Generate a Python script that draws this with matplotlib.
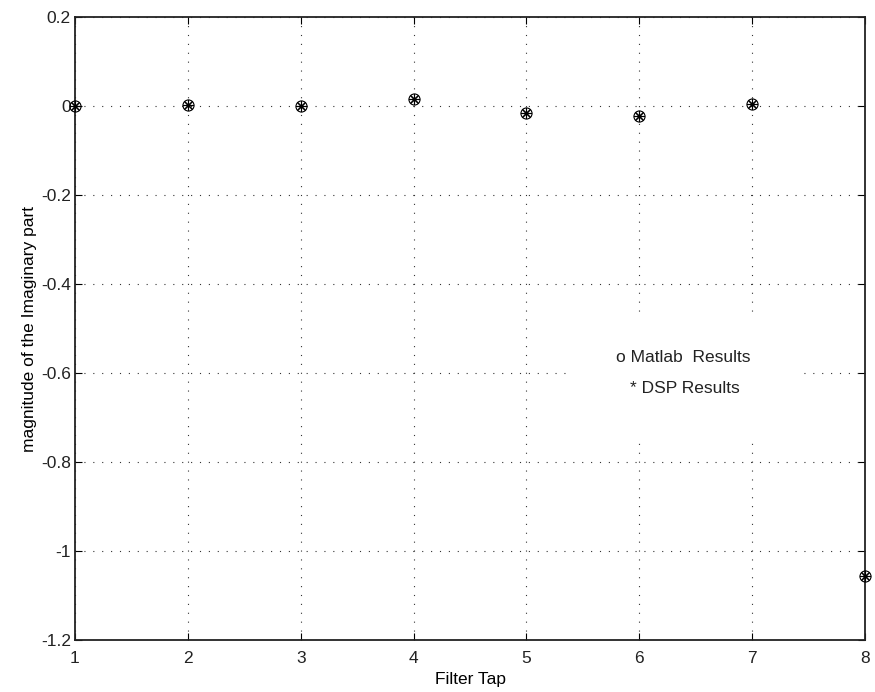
import matplotlib
matplotlib.use("Agg")
import matplotlib.pyplot as plt
from matplotlib.patches import Rectangle

# Imaginary part of each filter tap, Matlab vs DSP
taps = [1, 2, 3, 4, 5, 6, 7, 8]
matlab_imag = [0.0, 0.002, 0.0, 0.015, -0.016, -0.022, 0.004, -1.056]
dsp_imag = [0.0, 0.002, 0.0, 0.015, -0.016, -0.022, 0.004, -1.056]

xticks = [1, 2, 3, 4, 5, 6, 7, 8]
yticks = [-1.2, -1.0, -0.8, -0.6, -0.4, -0.2, 0.0, 0.2]
ytick_labels = ["-1.2", "-1", "-0.8", "-0.6", "-0.4", "-0.2", "0", "0.2"]

plt.rcParams['font.family'] = ['Liberation Sans', 'DejaVu Sans']
plt.rcParams['font.size'] = 12.5
plt.rcParams['text.color'] = '#222222'

fig = plt.figure(figsize=(8.75, 6.92), dpi=100)
ax = fig.add_axes([0.0857, 0.0751, 0.9029, 0.9003])

# Matlab results as circles, DSP results as asterisks on top
ax.plot(taps, matlab_imag, linestyle='none', marker='o', markersize=8,
        markerfacecolor='none', markeredgecolor='black', markeredgewidth=0.8,
        zorder=3, clip_on=False)
ax.plot(taps, dsp_imag, linestyle='none', marker=(8, 2, 0), markersize=8,
        markeredgecolor='black', markeredgewidth=0.8, zorder=4, clip_on=False)

ax.set_xlim(1, 8)
ax.set_ylim(-1.2, 0.2)
ax.set_xticks(xticks)
ax.set_yticks(yticks)
ax.set_yticklabels(ytick_labels)
ax.tick_params(direction='in', top=True, right=True, length=5, width=0.8,
               labelcolor='#222222')
ax.tick_params(axis='x', pad=8)
ax.tick_params(axis='y', pad=3)

ax.set_axisbelow(True)
ax.grid(True, color='#333333', linestyle=(0, (1, 7)), linewidth=0.8)
for s in ax.spines.values():
    s.set_linewidth(1.3)
    s.set_color('#222222')

# white text box that blanks out the grid behind the legend text
ax.add_patch(Rectangle((5.40, -0.755), 2.02, 0.292, facecolor='white',
                       edgecolor='none', zorder=1))
ax.text(6.39, -0.566, "o Matlab  Results", ha='center', va='center', zorder=5)
ax.text(6.40, -0.634, "* DSP Results", ha='center', va='center', zorder=5)

ax.set_xlabel("Filter Tap", labelpad=4)
ax.set_ylabel("magnitude of the Imaginary part", labelpad=3)

fig.savefig("out.png", dpi=100)
